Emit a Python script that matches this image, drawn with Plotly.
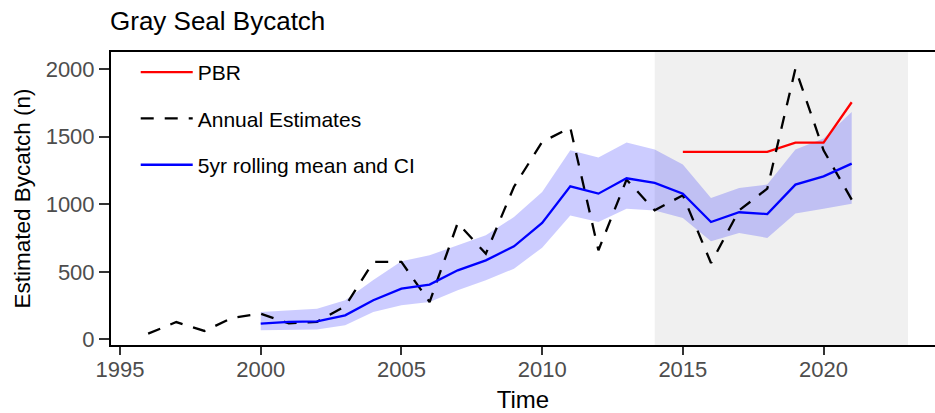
import plotly.graph_objects as go

# ---- data ----
years_annual = list(range(1996, 2022))
annual_est = [42, 128, 62, 160, 190, 118, 130, 245, 573, 573, 276, 862, 634, 1130,
              1462, 1568, 659, 1183, 955, 1067, 565, 955, 1116, 2005, 1400, 1035]

years_roll = list(range(2000, 2022))
roll_mean = [116, 130, 133, 178, 289, 375, 405, 511, 585, 689, 862, 1133, 1079, 1193,
             1158, 1079, 869, 941, 928, 1146, 1207, 1301]
ci_upper = [202, 215, 227, 289, 440, 578, 622, 696, 770, 906, 1091, 1400, 1346, 1457,
            1405, 1294, 1047, 1121, 1146, 1405, 1487, 1684]
ci_lower = [67, 70, 72, 104, 202, 252, 276, 363, 437, 523, 679, 918, 869, 968,
            955, 899, 726, 788, 751, 931, 968, 1005]

years_pbr = list(range(2015, 2022))
pbr = [1388, 1388, 1388, 1388, 1457, 1457, 1756]

shade_start, shade_end = 2014, 2023
x_ticks = [1995, 2000, 2005, 2010, 2015, 2020]
y_ticks = [0, 500, 1000, 1500, 2000]

FONT = "Liberation Sans, Arial, Helvetica, sans-serif"

fig = go.Figure()

# CI ribbon
fig.add_trace(go.Scatter(
    x=years_roll + years_roll[::-1],
    y=ci_upper + ci_lower[::-1],
    fill="toself", fillcolor="rgba(0,0,255,0.2)",
    line=dict(width=0), mode="lines", showlegend=False, hoverinfo="skip"))

fig.add_trace(go.Scatter(
    x=years_pbr, y=pbr, mode="lines", name="PBR",
    line=dict(color="#ff0000", width=2.3), legendgroup="a"))

fig.add_trace(go.Scatter(
    x=years_annual, y=annual_est, mode="lines", name="Annual Estimates",
    line=dict(color="black", width=2.3, dash="13px,11px"), legendgroup="b"))

fig.add_trace(go.Scatter(
    x=years_roll, y=roll_mean, mode="lines", name="5yr rolling mean and CI",
    line=dict(color="#0000ff", width=2.3), legendgroup="c"))

fig.add_shape(type="rect", xref="x", yref="paper",
              x0=shade_start, x1=shade_end, y0=0, y1=1,
              fillcolor="#f0f0f0", line=dict(width=0), layer="below")

fig.update_layout(
    width=935, height=413,
    margin=dict(l=111, r=0, t=52, b=68, autoexpand=False),
    paper_bgcolor="white", plot_bgcolor="white",
    font=dict(family=FONT, color="black"),
    title=dict(text="Gray Seal Bycatch", x=110/935, xanchor="left",
               y=1-21/413, yanchor="middle",
               font=dict(size=26, color="black", family=FONT)),
    legend=dict(x=0.03, y=1.0, xanchor="left", yanchor="top",
                font=dict(size=21, color="black"),
                bgcolor="rgba(0,0,0,0)", tracegroupgap=16,
                itemwidth=52),
    showlegend=True,
)

fig.update_xaxes(
    range=[1994.68, 2023.96], tickvals=x_ticks,
    showgrid=False, zeroline=False, automargin=False,
    showline=True, linecolor="black", linewidth=2, mirror=True,
    ticks="outside", ticklen=8, tickwidth=1.5, tickcolor="#333333",
    ticklabelstandoff=-4,
    tickfont=dict(size=22, color="#4d4d4d"),
    title=dict(text="Time", font=dict(size=24, color="black"), standoff=10))

fig.update_yaxes(
    range=[-42, 2128], tickvals=y_ticks,
    showgrid=False, zeroline=False, automargin=False,
    showline=True, linecolor="black", linewidth=2,
    ticks="outside", ticklen=10, tickwidth=1.5, tickcolor="#333333",
    tickfont=dict(size=22, color="#4d4d4d"),
    title=dict(text="Estimated Bycatch (n)", font=dict(size=22.5, color="black"), standoff=9))

fig.write_html("out.html", config={"displayModeBar": False},
               post_script="document.body.style.margin='0px';document.body.style.padding='0px';")
